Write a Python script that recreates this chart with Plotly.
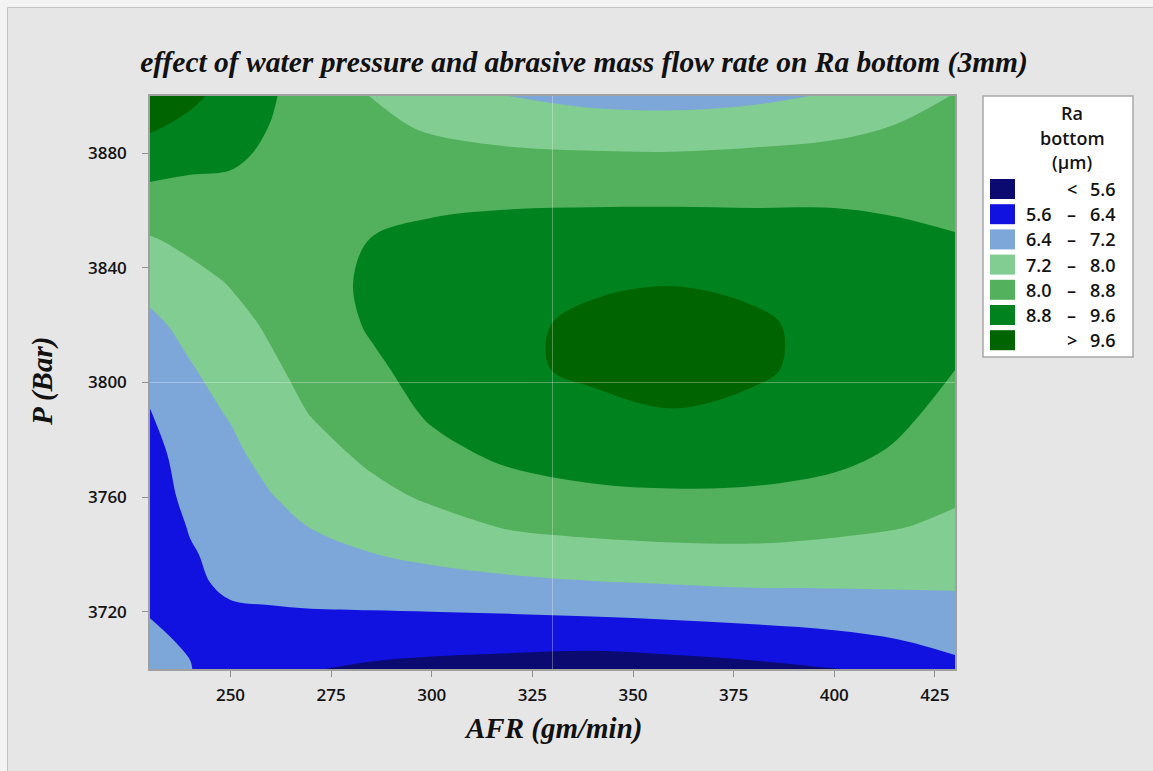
import plotly.graph_objects as go

# ---- data ----
afr = [230, 240, 250, 260, 270, 285, 300, 320, 340, 360, 380, 400, 415, 430]
pressure = [3700, 3710, 3720, 3730, 3740, 3750, 3760, 3775, 3790, 3805, 3820, 3835, 3850, 3865, 3880, 3890, 3900]

# Ra bottom estimates, one list per AFR column (bottom -> top in pressure)
col_230 = [6.62, 6.50, 6.37, 6.20, 6.05, 5.98, 5.98, 6.10, 6.38, 6.70, 7.03, 7.45, 7.95, 8.57, 9.26, 9.74, 10.20]
col_240 = [6.43, 6.33, 6.20, 6.30, 6.34, 6.45, 6.62, 6.80, 6.97, 7.15, 7.42, 7.78, 8.17, 8.58, 9.02, 9.42, 9.78]
col_250 = [5.85, 6.00, 6.33, 6.50, 6.62, 6.75, 6.87, 7.06, 7.26, 7.53, 7.78, 8.04, 8.32, 8.60, 8.93, 9.12, 9.30]
col_260 = [5.72, 5.95, 6.35, 6.57, 6.77, 6.97, 7.17, 7.42, 7.66, 7.90, 8.09, 8.24, 8.39, 8.54, 8.69, 8.79, 8.86]
col_270 = [5.63, 5.85, 6.37, 6.66, 6.94, 7.23, 7.43, 7.74, 8.04, 8.22, 8.38, 8.50, 8.58, 8.60, 8.56, 8.53, 8.50]
col_285 = [5.50, 5.88, 6.38, 6.79, 7.18, 7.49, 7.80, 8.15, 8.41, 8.67, 8.88, 8.93, 8.81, 8.55, 8.30, 8.15, 7.98]
col_300 = [5.43, 5.82, 6.40, 6.91, 7.37, 7.75, 8.10, 8.58, 8.92, 9.10, 9.20, 9.15, 8.98, 8.62, 8.19, 7.90, 7.60]
col_320 = [5.35, 5.80, 6.45, 7.05, 7.59, 8.08, 8.45, 8.97, 9.30, 9.53, 9.49, 9.43, 9.12, 8.66, 8.10, 7.65, 7.18]
col_340 = [5.25, 5.80, 6.52, 7.16, 7.72, 8.21, 8.65, 9.12, 9.50, 9.68, 9.72, 9.52, 9.15, 8.68, 8.05, 7.50, 6.98]
col_360 = [5.30, 5.90, 6.60, 7.23, 7.80, 8.28, 8.71, 9.16, 9.59, 9.75, 9.80, 9.58, 9.20, 8.67, 8.03, 7.48, 6.92]
col_380 = [5.42, 6.02, 6.70, 7.30, 7.83, 8.28, 8.70, 9.09, 9.52, 9.66, 9.70, 9.48, 9.12, 8.68, 8.10, 7.60, 7.02]
col_400 = [5.58, 6.20, 6.77, 7.30, 7.76, 8.17, 8.53, 9.00, 9.30, 9.48, 9.41, 9.35, 9.12, 8.68, 8.18, 7.79, 7.28]
col_415 = [5.80, 6.37, 6.85, 7.30, 7.69, 8.05, 8.32, 8.72, 9.00, 9.15, 9.18, 9.13, 8.98, 8.64, 8.25, 8.00, 7.68]
col_430 = [6.22, 6.59, 6.95, 7.29, 7.58, 7.87, 8.08, 8.33, 8.57, 8.81, 8.93, 8.95, 8.84, 8.60, 8.35, 8.19, 8.03]

columns = [col_230, col_240, col_250, col_260, col_270, col_285, col_300,
           col_320, col_340, col_360, col_380, col_400, col_415, col_430]

levels = [5.6, 6.4, 7.2, 8.0, 8.8, 9.6]
band_colors = ["#0a0a70", "#1212e0", "#7da7d8", "#82cd91", "#53b05c", "#00821f", "#006400"]
legend_labels = [("<", None, "5.6"), ("5.6", "–", "6.4"), ("6.4", "–", "7.2"), ("7.2", "–", "8.0"),
                 ("8.0", "–", "8.8"), ("8.8", "–", "9.6"), (">", None, "9.6")]
x_ticks = [250, 275, 300, 325, 350, 375, 400, 425]
y_ticks = [3720, 3760, 3800, 3840, 3880]

# z matrix: rows = pressure, columns = AFR
z = [[col[i] for col in columns] for i in range(len(pressure))]

n = len(band_colors)
colorscale = [[k / (n - 1), c] for k, c in enumerate(band_colors)]

fig = go.Figure()
fig.add_trace(go.Contour(
    x=afr, y=pressure, z=z,
    autocontour=False,
    contours=dict(start=levels[0], end=levels[-1], size=0.8, coloring="fill", showlines=False),
    colorscale=colorscale, showscale=False,
    line=dict(width=0), hoverinfo="skip",
))

# helpers: pixel -> paper coordinates (plot area 150..955 x 96..669)
L, R, T, B = 150, 955, 96, 669
def px(xp):
    return (xp - L) / (R - L)
def py(yp):
    return (B - yp) / (B - T)

shapes = []
# outer frame
shapes.append(dict(type="rect", xref="paper", yref="paper", layer="below",
                   x0=px(7.5), x1=px(1200), y0=py(800), y1=py(7.5),
                   fillcolor="#e6e6e6", line=dict(color="#c4c4c4", width=1)))
# centre reference lines
shapes.append(dict(type="line", xref="x", yref="y", x0=330, x1=330, y0=3700, y1=3900,
                   line=dict(color="rgba(255,255,255,0.3)", width=1)))
shapes.append(dict(type="line", xref="x", yref="y", x0=230, x1=430, y0=3800, y1=3800,
                   line=dict(color="rgba(255,255,255,0.3)", width=1)))
# legend box
shapes.append(dict(type="rect", xref="paper", yref="paper",
                   x0=px(983), x1=px(1133), y0=py(357), y1=py(96),
                   fillcolor="white", line=dict(color="#a8a8a8", width=1.5)))

annotations = []
font_sans = "Open Sans"
txt_col = "#141414"
leg_size = 18
leg_font = dict(family=font_sans, size=leg_size, color=txt_col, weight=600)
for t, yc in zip(["Ra", "bottom", "(µm)"], [113, 138, 162]):
    annotations.append(dict(xref="paper", yref="paper", x=px(1072), y=py(yc), text=t,
                            showarrow=False, xanchor="center", yanchor="middle", font=leg_font))

for k, (col, lab) in enumerate(zip(band_colors, legend_labels)):
    yc = 189 + 25.2 * k
    shapes.append(dict(type="rect", xref="paper", yref="paper",
                       x0=px(990), x1=px(1015), y0=py(yc + 10), y1=py(yc - 10),
                       fillcolor=col, line=dict(width=0)))
    a, dash, b = lab
    if dash is None:
        annotations.append(dict(xref="paper", yref="paper", x=px(1072), y=py(yc), text=a,
                                showarrow=False, xanchor="center", yanchor="middle", font=leg_font))
    else:
        annotations.append(dict(xref="paper", yref="paper", x=px(1054), y=py(yc), text=a,
                                showarrow=False, xanchor="right", yanchor="middle", font=leg_font))
        annotations.append(dict(xref="paper", yref="paper", x=px(1071), y=py(yc), text=dash,
                                showarrow=False, xanchor="center", yanchor="middle", font=leg_font))
    annotations.append(dict(xref="paper", yref="paper", x=px(1118), y=py(yc), text=b,
                            showarrow=False, xanchor="right", yanchor="middle", font=leg_font))

serif = "Liberation Serif"
annotations.append(dict(xref="paper", yref="paper", x=0.5, y=py(728), text="<b><i>AFR (gm/min)</i></b>",
                        showarrow=False, xanchor="center", yanchor="middle",
                        font=dict(family=serif, size=29, color="#111111")))
annotations.append(dict(xref="paper", yref="paper", x=px(42), y=py(382), text="<b><i>P (Bar)</i></b>",
                        showarrow=False, xanchor="center", yanchor="middle", textangle=-90,
                        font=dict(family=serif, size=29, color="#111111")))

fig.update_layout(
    width=1153, height=771,
    margin=dict(l=L, r=1153 - R, t=T, b=771 - B),
    paper_bgcolor="#f3f3f3", plot_bgcolor="#e6e6e6",
    title=dict(text="<b><i>effect of water pressure and abrasive mass flow rate on Ra bottom (3mm)</i></b>",
               x=584 / 1153, xref="container", xanchor="center",
               y=1 - 62 / 771, yref="container", yanchor="middle",
               font=dict(family=serif, size=29.5, color="#111111")),
    shapes=shapes, annotations=annotations, showlegend=False,
)
axis_common = dict(showgrid=False, zeroline=False, showline=True, linecolor="#a0a0a0", linewidth=1.5,
                   mirror=True, ticks="outside", ticklen=6, tickcolor="#909090", tickwidth=1,
                   tickfont=dict(family=font_sans, size=17, color=txt_col, weight=600))
fig.update_xaxes(range=[230, 430], tickvals=x_ticks, ticklabelstandoff=4, **axis_common)
fig.update_yaxes(range=[3700, 3900], tickvals=y_ticks, ticklabelstandoff=12, **axis_common)

fig.write_html("out.html")
